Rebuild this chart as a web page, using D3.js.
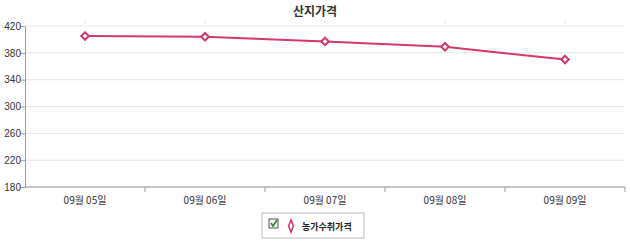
<!DOCTYPE html>
<html>
<head>
<meta charset="utf-8">
<script src="https://cdn.jsdelivr.net/npm/d3@7"></script>
<style>
  body { margin: 0; background: #fff; }
  svg { display: block; font-family: "Liberation Sans", Arial, "Noto Sans CJK KR", sans-serif; }
  .axis path, .axis line { stroke: #9a9a9a; }
  .axis text { fill: #333; font-size: 10px; }
</style>
</head>
<body>
<div id="chart"></div>
<script>
const title = '산지가격';
const seriesName = '농가수취가격';
const categories = ['09월 05일', '09월 06일', '09월 07일', '09월 08일', '09월 09일'];
const values = [405, 404, 397, 389, 370];
const yTicks = [180, 220, 260, 300, 340, 380, 420];

const lineColor = '#d4386a';
const width = 630;
const height = 242;
const margin = { left: 25, right: 5, top: 26, bottom: 55 };

const svg = d3.select('#chart').append('svg')
  .attr('width', width)
  .attr('height', height);

const x = d3.scaleBand().domain(categories).range([margin.left, width - margin.right]);
const y = d3.scaleLinear().domain([180, 420]).range([height - margin.bottom, margin.top]);

// title
svg.append('text')
  .attr('x', width / 2)
  .attr('y', 16)
  .attr('text-anchor', 'middle')
  .attr('font-family', '"Noto Sans CJK KR", sans-serif')
  .attr('font-size', 12)
  .attr('font-weight', 'bold')
  .attr('fill', '#333')
  .text(title);

// horizontal grid
svg.append('g').selectAll('line').data(yTicks).join('line')
  .attr('x1', margin.left).attr('x2', width - margin.right)
  .attr('y1', d => y(d)).attr('y2', d => y(d))
  .attr('stroke', '#e6e6e6');

// faint top ticks at category centers
svg.append('g').selectAll('line').data(categories).join('line')
  .attr('x1', d => x(d) + x.bandwidth() / 2).attr('x2', d => x(d) + x.bandwidth() / 2)
  .attr('y1', margin.top - 6).attr('y2', margin.top - 2)
  .attr('stroke', '#e8e8e8');

// y axis
const yAxis = svg.append('g')
  .attr('class', 'axis')
  .attr('transform', `translate(${margin.left},0)`)
  .call(d3.axisLeft(y).tickValues(yTicks).tickSize(5).tickSizeOuter(0));
yAxis.selectAll('text').attr('x', -4);

// x axis with ticks at band edges
const xAxis = svg.append('g')
  .attr('class', 'axis')
  .attr('transform', `translate(0,${y(180)})`);
xAxis.append('line')
  .attr('x1', margin.left).attr('x2', width - margin.right)
  .attr('stroke', '#9a9a9a');
xAxis.selectAll('.edge').data(categories).join('line')
  .attr('class', 'edge')
  .attr('x1', d => x(d) + x.bandwidth()).attr('x2', d => x(d) + x.bandwidth())
  .attr('y1', 0).attr('y2', 5)
  .attr('stroke', '#9a9a9a');
xAxis.selectAll('text').data(categories).join('text')
  .attr('x', d => x(d) + x.bandwidth() / 2)
  .attr('y', 17)
  .attr('text-anchor', 'middle')
  .attr('font-family', '"Noto Sans CJK KR", sans-serif')
  .attr('font-size', 9.5)
  .attr('fill', '#444')
  .text(d => d);

// line
const pts = categories.map((c, i) => ({ c, v: values[i] }));
svg.append('path')
  .datum(pts)
  .attr('fill', 'none')
  .attr('stroke', lineColor)
  .attr('stroke-width', 2)
  .attr('d', d3.line().x(d => x(d.c) + x.bandwidth() / 2).y(d => y(d.v)));

const diamond = d3.symbol().type(d3.symbolDiamond2).size(36);
svg.append('g').selectAll('path').data(pts).join('path')
  .attr('transform', d => `translate(${x(d.c) + x.bandwidth() / 2},${y(d.v)})`)
  .attr('d', diamond)
  .attr('fill', '#fff')
  .attr('stroke', lineColor)
  .attr('stroke-width', 2);

// legend
const lg = svg.append('g').attr('transform', 'translate(262,213)');
lg.append('rect')
  .attr('width', 102).attr('height', 25)
  .attr('fill', '#fff').attr('stroke', '#bbb');
lg.append('rect')
  .attr('x', 7).attr('y', 6).attr('width', 9).attr('height', 9)
  .attr('fill', '#f4f4f4').attr('stroke', '#555');
lg.append('path')
  .attr('d', 'M9 10 L11 13 L15 7')
  .attr('fill', 'none').attr('stroke', '#2a8a2a').attr('stroke-width', 1.6);
lg.append('path')
  .attr('transform', 'translate(29,13)')
  .attr('d', d3.symbol().type(d3.symbolDiamond).size(30))
  .attr('fill', '#fff').attr('stroke', lineColor).attr('stroke-width', 1.8)
  .attr('transform', 'translate(29,13) scale(0.8,1.2)');
lg.append('text')
  .attr('x', 40).attr('y', 17)
  .attr('font-family', '"Noto Sans CJK KR", sans-serif')
  .attr('font-size', 9)
  .attr('font-weight', 'bold')
  .attr('fill', '#222')
  .text(seriesName);
</script>
</body>
</html>
